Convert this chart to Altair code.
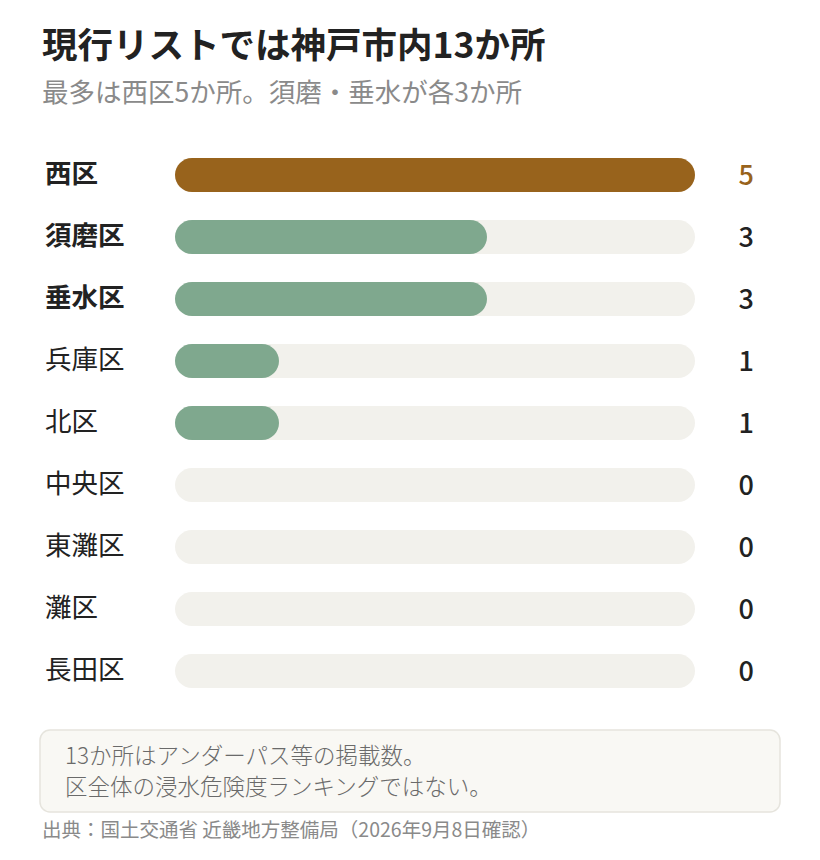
import altair as alt
import pandas as pd

districts = ["西区", "須磨区", "垂水区", "兵庫区", "北区", "中央区", "東灘区", "灘区", "長田区"]
counts = [5, 3, 3, 1, 1, 0, 0, 0, 0]
max_count = 5

title_text = "現行リストでは神戸市内13か所"
subtitle_text = "最多は西区5か所。須磨・垂水が各3か所"
note_lines = ["13か所はアンダーパス等の掲載数。", "区全体の浸水危険度ランキングではない。"]
source_text = "出典：国土交通省 近畿地方整備局（2026年9月8日確認）"

FONT = "Noto Sans CJK JP"
BROWN = "#98631c"
GREEN = "#7fa88e"
TRACK = "#f2f1ec"

df = pd.DataFrame({
    "district": districts,
    "count": counts,
    "full": [max_count] * len(districts),
    "top": [c == max(counts) for c in counts],
    "bold": [c >= 3 for c in counts],
})

xs = alt.Scale(domain=[0, max_count], range=[167, 687])
ys = alt.Scale(domain=districts, range=[136, 694], paddingInner=0, paddingOuter=0)

base = alt.Chart(df)

track = base.mark_bar(height=34, cornerRadius=17, color=TRACK).encode(
    x=alt.X("full:Q", scale=xs, axis=None),
    y=alt.Y("district:N", scale=ys, axis=None),
)

bars = base.transform_filter("datum.count > 0").mark_bar(height=34, cornerRadius=17).encode(
    x=alt.X("count:Q", scale=xs, axis=None),
    y=alt.Y("district:N", scale=ys, axis=None),
    color=alt.condition("datum.top", alt.value(BROWN), alt.value(GREEN)),
)

labels_bold = base.transform_filter("datum.bold").mark_text(
    align="left", baseline="middle", font=FONT, fontSize=26.5, fontWeight="bold", color="#222222"
).encode(
    x=alt.value(37),
    y=alt.Y("district:N", scale=ys, axis=None),
    text="district:N",
)
labels_norm = base.transform_filter("!datum.bold").mark_text(
    align="left", baseline="middle", font=FONT, fontSize=26.5, fontWeight="normal", color="#222222"
).encode(
    x=alt.value(37),
    y=alt.Y("district:N", scale=ys, axis=None),
    text="district:N",
)

values = base.mark_text(
    align="right", baseline="middle", font=FONT, fontSize=27, fontWeight=500, dy=2
).encode(
    x=alt.value(746),
    y=alt.Y("district:N", scale=ys, axis=None),
    text="count:Q",
    color=alt.condition("datum.top", alt.value(BROWN), alt.value("#222222")),
)

one = pd.DataFrame({"a": [0]})

title = alt.Chart(one).mark_text(
    align="left", baseline="middle", font=FONT, fontSize=35.5, fontWeight="bold", color="#222222"
).encode(x=alt.value(34), y=alt.value(39), text=alt.datum(title_text))

subtitle = alt.Chart(one).mark_text(
    align="left", baseline="middle", font=FONT, fontSize=26.5, color="#8a8a8a"
).encode(x=alt.value(34), y=alt.value(86), text=alt.datum(subtitle_text))

note_box = alt.Chart(one).mark_rect(
    fill="#f9f8f4", stroke="#e6e4dd", strokeWidth=1.5, cornerRadius=10
).encode(x=alt.value(32), x2=alt.value(772), y=alt.value(722), y2=alt.value(804))

note1 = alt.Chart(one).mark_text(
    align="left", baseline="middle", font=FONT, fontSize=22.5, fontWeight=300, color="#6a6a6a"
).encode(x=alt.value(57), y=alt.value(749), text=alt.datum(note_lines[0]))
note2 = alt.Chart(one).mark_text(
    align="left", baseline="middle", font=FONT, fontSize=22.5, fontWeight=300, color="#6a6a6a"
).encode(x=alt.value(57), y=alt.value(780), text=alt.datum(note_lines[1]))

source = alt.Chart(one).mark_text(
    align="left", baseline="middle", font=FONT, fontSize=19.5, color="#8a8a8a"
).encode(x=alt.value(34), y=alt.value(823), text=alt.datum(source_text))

chart = alt.layer(
    track, bars, labels_bold, labels_norm, values,
    title, subtitle, note_box, note1, note2, source
).properties(
    width=804, height=844, padding=0,
    autosize=alt.AutoSizeParams(type="none"),
    background="#ffffff",
).configure_view(stroke=None)

chart.save("out.html", embed_options={"renderer": "svg", "actions": False})
